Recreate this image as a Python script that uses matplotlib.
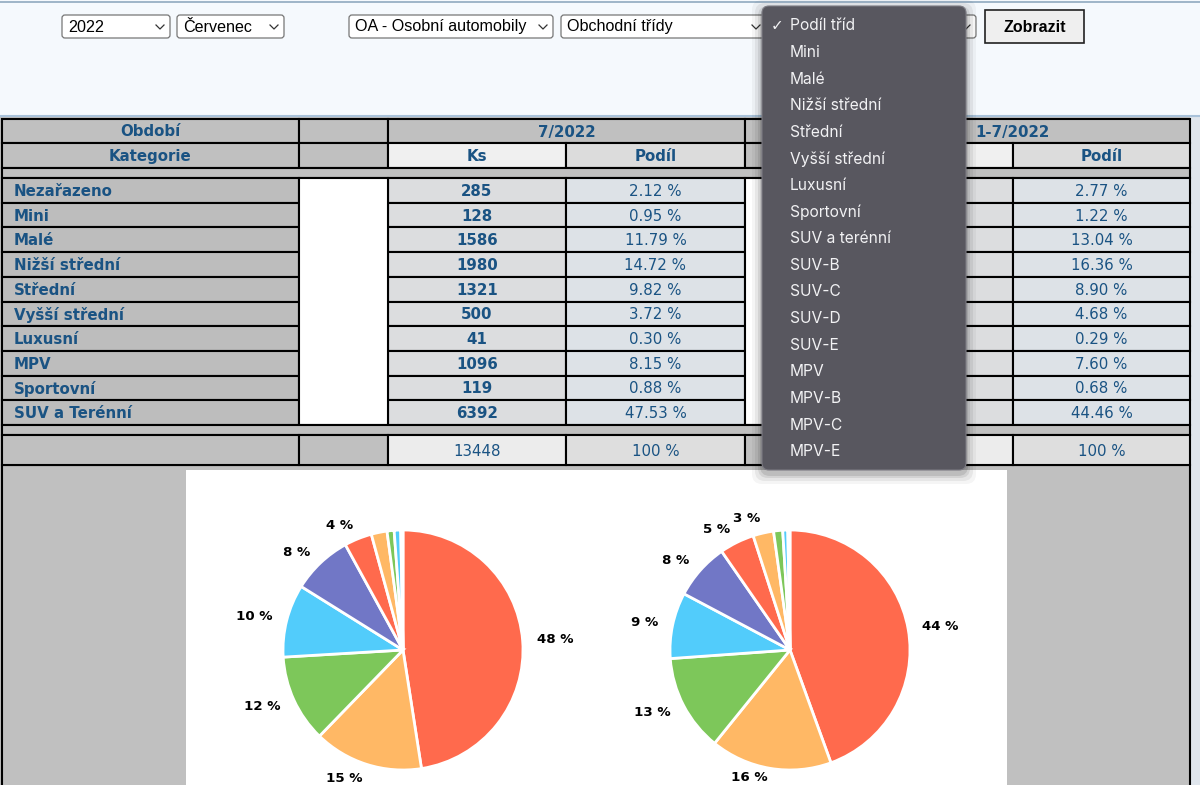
import numpy as np
import matplotlib.pyplot as plt
from matplotlib.patches import Rectangle, FancyBboxPatch

# data from the table
kategorie = ["Nezařazeno", "Mini", "Malé", "Nižší střední", "Střední",
             "Vyšší střední", "Luxusní", "MPV", "Sportovní", "SUV a Terénní"]
ks_mesic = [285, 128, 1586, 1980, 1321, 500, 41, 1096, 119, 6392]
podil_mesic = [2.12, 0.95, 11.79, 14.72, 9.82, 3.72, 0.30, 8.15, 0.88, 47.53]
podil_rok = [2.77, 1.22, 13.04, 16.36, 8.90, 4.68, 0.29, 7.60, 0.68, 44.46]
ks_celkem = 13448

menu = ["Podíl tříd", "Mini", "Malé", "Nižší střední", "Střední", "Vyšší střední",
        "Luxusní", "Sportovní", "SUV a terénní", "SUV-B", "SUV-C", "SUV-D",
        "SUV-E", "MPV", "MPV-B", "MPV-C", "MPV-E"]
selecty = ["2022", "Červenec", "OA - Osobní automobily", "Obchodní třídy", ""]

barvy = ["#ff6a4d", "#ffb865", "#7dc75a", "#52ccfb", "#7177c6"]
modra = "#1a5383"

W, H = 1200, 785
fig = plt.figure(figsize=(12, 7.85), dpi=100)
fig.patch.set_facecolor("#c0c0c0")
ax = fig.add_axes([0, 0, 1, 1])
ax.set_xlim(0, W)
ax.set_ylim(H, 0)
ax.axis("off")

# top form area
ax.add_patch(Rectangle((0, 0), W, 116, fc="#f5f9fd", ec="none", zorder=0))
ax.plot([0, W], [1.5, 1.5], color="#8fa9bf", lw=1.2)
ax.plot([0, W], [115.5, 115.5], color="#a9c2da", lw=1.5)
ax.add_patch(Rectangle((1190, 116), 10, H - 116, fc="#dfe5ec", ec="none", zorder=0))


def chevron(x, y):
    ax.plot([x - 4, x, x + 4], [y - 2, y + 2, y - 2], color="#333333", lw=0.9, zorder=3)


sel_x = [(62, 170), (177, 284), (349, 553), (561, 766), (772, 976)]
for (x0, x1), t in zip(sel_x, selecty):
    ax.add_patch(FancyBboxPatch((x0, 15), x1 - x0, 23, boxstyle="round,pad=0,rounding_size=3",
                                fc="white", ec="#767676", lw=0.9, zorder=2))
    ax.text(x0 + 6, 27, t, fontsize=11.6, family="Liberation Sans", va="center", ha="left",
            color="black", zorder=3)
    chevron(x1 - 10, 27)

ax.add_patch(Rectangle((985, 10), 99, 33, fc="#efefef", ec="#222222", lw=1.2, zorder=2))
ax.text(1034.5, 27, "Zobrazit", fontsize=11.5, family="Liberation Sans", fontweight="bold",
        ha="center", va="center", zorder=3)

# table
cols = [2, 299, 388, 566, 745, 835, 1013, 1190]
lw = 1.5


def cell(x0, x1, y0, y1, fc, text=None, bold=False, ha="center"):
    ax.add_patch(Rectangle((x0, y0), x1 - x0, y1 - y0, fc=fc, ec="black", lw=lw, zorder=1))
    if text is not None:
        tx = (x0 + x1) / 2 if ha == "center" else x0 + 12
        ax.text(tx, (y0 + y1) / 2 + 1, text, fontsize=10.8, color=modra, ha=ha, va="center",
                fontweight="bold" if bold else "normal", zorder=2)


seda = "#c0c0c0"
seda_kat = "#bdbdbd"
sv_ks = "#dcdddf"
sv_pod = "#dde2e7"

# header row 1
y0, y1 = 119, 143
cell(cols[0], cols[1], y0, y1, seda, "Období", True)
cell(cols[1], cols[2], y0, y1, seda)
cell(cols[2], cols[4], y0, y1, seda, "7/2022", True)
cell(cols[4], cols[5], y0, y1, seda)
cell(cols[5], cols[7], y0, y1, seda, "1-7/2022", True)
# header row 2
y0, y1 = 143, 168
cell(cols[0], cols[1], y0, y1, seda, "Kategorie", True)
cell(cols[1], cols[2], y0, y1, seda)
cell(cols[2], cols[3], y0, y1, "#f0f0f0", "Ks", True)
cell(cols[3], cols[4], y0, y1, "#dcdcdc", "Podíl", True)
cell(cols[4], cols[5], y0, y1, seda)
cell(cols[5], cols[6], y0, y1, "#f0f0f0", "", True)
cell(cols[6], cols[7], y0, y1, "#dcdcdc", "Podíl", True)
# spacer
cell(cols[0], cols[7], 168, 178, seda)

row_h = 24.7
top = 178
for i, k in enumerate(kategorie):
    a, b = top + i * row_h, top + (i + 1) * row_h
    cell(cols[0], cols[1], a, b, seda_kat, k, True, ha="left")
    cell(cols[2], cols[3], a, b, sv_ks, str(ks_mesic[i]), True)
    cell(cols[3], cols[4], a, b, sv_pod, "%.2f %%" % podil_mesic[i])
    cell(cols[5], cols[6], a, b, sv_ks, "")
    cell(cols[6], cols[7], a, b, sv_pod, "%.2f %%" % podil_rok[i])
bottom = top + len(kategorie) * row_h
ax.add_patch(Rectangle((cols[1], top), cols[2] - cols[1], bottom - top, fc="white", ec="black", lw=lw, zorder=1))
ax.add_patch(Rectangle((cols[4], top), cols[5] - cols[4], bottom - top, fc="white", ec="black", lw=lw, zorder=1))

# spacer + totals
cell(cols[0], cols[7], bottom, bottom + 10, seda)
y0, y1 = bottom + 10, 465
cell(cols[0], cols[1], y0, y1, seda)
cell(cols[1], cols[2], y0, y1, seda)
cell(cols[2], cols[3], y0, y1, "#ececec", str(ks_celkem))
cell(cols[3], cols[4], y0, y1, "#dedede", "100 %")
cell(cols[4], cols[5], y0, y1, seda)
cell(cols[5], cols[6], y0, y1, "#ececec", "")
cell(cols[6], cols[7], y0, y1, "#dedede", "100 %")

# lower area
ax.add_patch(Rectangle((cols[0], 465), cols[7] - cols[0], H - 465 + 5, fc=seda, ec="black", lw=lw, zorder=0.5))
ax.add_patch(Rectangle((186, 470), 1007 - 186, H - 470 + 5, fc="white", ec="none", zorder=0.6))

# dropdown menu with shadow
for k, al in zip([10, 7, 4, 2], [0.04, 0.06, 0.08, 0.1]):
    ax.add_patch(FancyBboxPatch((762 - k, 6 - k + 4), 204 + 2 * k, 464 + 2 * k,
                                boxstyle="round,pad=0,rounding_size=10", fc="black",
                                ec="none", alpha=al, zorder=5))
ax.add_patch(FancyBboxPatch((762, 6), 204, 464, boxstyle="round,pad=0,rounding_size=7",
                            fc="#58575f", ec="#7b7a82", lw=0.8, zorder=6))
for i, m in enumerate(menu):
    y = 26 + i * 26.6
    ax.text(790, y, m, fontsize=11.2, family=["Inter", "DejaVu Sans"], color="#f2f2f4",
            ha="left", va="center", zorder=7)
ax.text(771, 26, "✓", fontsize=11, family="DejaVu Sans", color="#f2f2f4",
        ha="left", va="center", zorder=7)


# pies
def kolac(cx, cy, r, hodnoty):
    pax = fig.add_axes([(cx - r) / W, (H - cy - r) / H, 2 * r / W, 2 * r / H])
    poradi = np.argsort(hodnoty)[::-1]
    vals = [hodnoty[j] for j in poradi]
    labels = ["%d %%" % round(v) if v >= 2.5 else "" for v in vals]
    cols_p = [barvy[i % len(barvy)] for i in range(len(vals))]
    _, texty = pax.pie(vals, colors=cols_p, labels=labels, startangle=90, counterclock=False,
                       labeldistance=1.12, wedgeprops=dict(edgecolor="white", linewidth=2),
                       textprops=dict(fontsize=9.6, fontweight="bold", color="black"))
    # keep the lowest label inside the picture
    for t in texty:
        x, y = t.get_position()
        if y < -1.08:
            t.set_position((x, y + 0.04))
    pax.set_xlim(-1, 1)
    pax.set_ylim(-1, 1)
    pax.axis("off")


kolac(403, 650, 120, podil_mesic)
kolac(790, 650, 120, podil_rok)

fig.savefig("out.png", dpi=100, facecolor=fig.get_facecolor())
